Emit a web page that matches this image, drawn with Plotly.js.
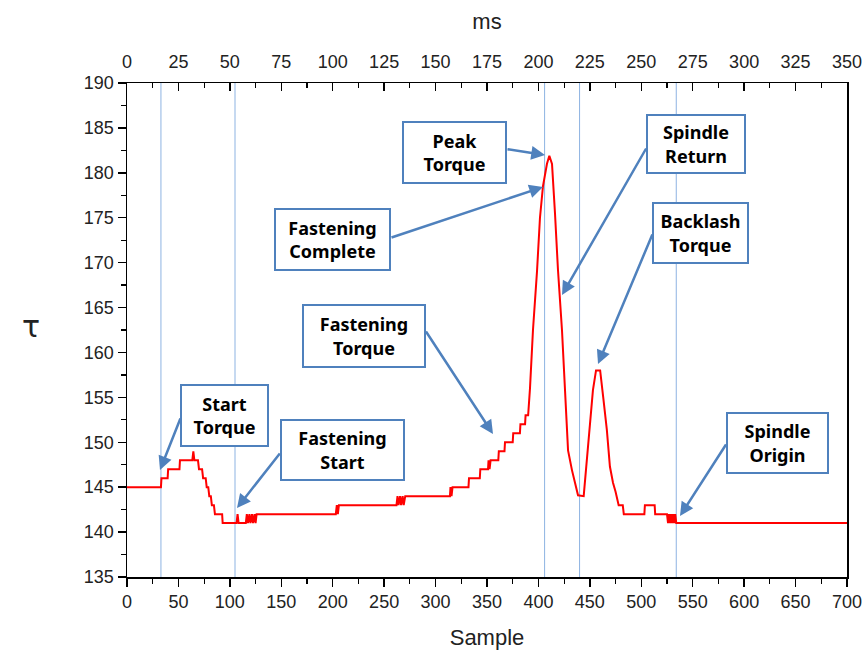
<!DOCTYPE html>
<html>
<head>
<meta charset="utf-8">
<script src="https://cdn.plot.ly/plotly-3.0.1.min.js"></script>
<style>html,body{margin:0;padding:0;background:#fff;}#chart{width:867px;height:653px;}</style>
</head>
<body>
<div id="chart"></div>
<script>
// Torque trace: sample index and torque value
const sample = [0,33,33.5,39.5,40,51,51.5,63.5,64.5,65.5,69,70,73,74,76.5,77.5,79,80,81.5,82.5,84.5,85.5,92.5,93,106.5,107.5,108.5,115.5,116.5,117.5,119,120,121.5,122.5,124,125,126,
  203,204,205,206,262,263,264,265.5,266.5,268,269,270.5,314,314.5,315.5,316.5,332,332.5,343,343.5,351,351.5,352.5,353.5,361,361.5,367,367.5,375,375.5,382,382.5,387,387.5,390,
  391.8,394.7,398.6,401.5,404.4,408.3,410.6,413.2,416.1,419,422.9,425.8,428.8,432.6,435.6,438.5,444,447,450,453,456,460,463,466.5,469.5,472.5,475,476,478,482,483,
  503,503.5,513,513.5,525,526,527,528,529,530,531,532,533,534,700];
const torque = [145,145,146,146,147,147,148,148,149,148,148,147,147,146,146,145,145,144,144,143,143,142,142,141,141,142,141,141,142,141,142,141,142,141,142,141,142,
  142,143,142,143,143,144,143,144,143,144,143,144,144,145,144,145,145,146,146,147,147,148,147,148,148,149,149,150,150,151,151,152,152,153,153,
  156,162.5,169,175,178.5,181,181.9,181,175.5,169.2,162.5,155,149.1,146.9,145.4,144.1,144,147.7,152,155.8,158,158,155,151.4,147.3,145.5,144.5,144,143,143,142,
  142,143,143,142,142,141,142,141,142,141,142,141,142,141,141];

// Event markers (sample index)
const eventSamples = [33,105,406,440,534];

// Callout labels
const labels = ["Start<br>Torque","Fastening<br>Start","Fastening<br>Torque","Fastening<br>Complete","Peak<br>Torque","Spindle<br>Return","Backlash<br>Torque","Spindle<br>Origin"];

// Axis ranges
const sampleRange = [0,700];
const msRange = [0,350];
const torqueRange = [135,190];

// --- layout helpers (pixel placement of callouts) ---
const L=127, R=847, T=83, B=577;
const pxX = p => (p-L)/(R-L);
const pxY = p => (B-p)/(B-T);
// box: [left, top, right, bottom]; arrow: [tailX, tailY, tipX, tipY]
const boxes = [
  [181,385,268,446],[281,420,404,480],[303,305,425,367],[275,209,390,270],
  [403,122,506,183],[647,115,745,173],[653,203,748,263],[727,413,828,473]
];
const arrows = [
  [181,417,160,470],[281,452,237,508],[425,330,493,434],[390,238,543,187],
  [506,149,545,155],[647,147,562,295],[653,233,598,364],[727,443,680,516]
];
const blue = '#4f81bd';
const annotations = [];
arrows.forEach(a => {
  annotations.push({xref:'paper',yref:'paper',x:pxX(a[2]),y:pxY(a[3]),ax:a[0]-a[2],ay:a[1]-a[3],
    text:'',showarrow:true,arrowhead:2,arrowsize:1.1,arrowwidth:2.5,arrowcolor:blue,standoff:0});
});
boxes.forEach((b,i) => {
  annotations.push({xref:'paper',yref:'paper',x:pxX((b[0]+b[2])/2),y:pxY((b[1]+b[3])/2),
    xanchor:'center',yanchor:'middle',text:labels[i],showarrow:false,
    width:b[2]-b[0]-2,height:b[3]-b[1]-2,borderpad:0,bordercolor:blue,borderwidth:2,bgcolor:'#fff',
    font:{family:'Noto Sans, DejaVu Sans, sans-serif',size:18,color:'#000',weight:'bold'}});
});
// y-axis symbol, upright as in the reference
annotations.push({xref:'paper',yref:'paper',x:pxX(31),y:pxY(326),xanchor:'center',yanchor:'middle',
  text:'τ',showarrow:false,font:{family:'DejaVu Sans, sans-serif',size:30,color:'#222'}});

const shapes = eventSamples.map(s => ({type:'line',xref:'x',yref:'paper',x0:s,x1:s,y0:0,y1:1,layer:'below',
  line:{color:'#8db3e2',width:1}}));

const tickFont = {family:'Liberation Sans, Arial, sans-serif',size:18,color:'#222'};
const titleFont = {family:'Liberation Sans, Arial, sans-serif',size:22,color:'#222'};
const axisCommon = {showgrid:false,zeroline:false,showline:true,linecolor:'#000',linewidth:1.5,
  tickcolor:'#000',tickwidth:1.5,tickfont:tickFont,automargin:false};

const traces = [
  {x:sample,y:torque,type:'scatter',mode:'lines',line:{color:'#ff0000',width:2},hoverinfo:'skip'},
  {x:msRange,y:[null,null],xaxis:'x2',type:'scatter',mode:'lines',hoverinfo:'skip',showlegend:false}
];

const layout = {
  width:867,height:653,margin:{l:L,r:867-R,t:T,b:653-B},
  paper_bgcolor:'#fff',plot_bgcolor:'#fff',showlegend:false,
  xaxis:Object.assign({},axisCommon,{range:sampleRange,tick0:0,dtick:50,ticks:'outside',ticklen:8,
    minor:{dtick:25,ticks:'outside',ticklen:5,tickcolor:'#000',tickwidth:1.2},
    title:{text:'Sample',font:titleFont,standoff:18}}),
  xaxis2:Object.assign({},axisCommon,{overlaying:'x',side:'top',anchor:'y',range:msRange,tick0:0,dtick:25,
    ticks:'inside',ticklen:8,ticklabelstandoff:6,
    minor:{dtick:12.5,ticks:'inside',ticklen:5,tickcolor:'#000',tickwidth:1.2},
    title:{text:'ms',font:titleFont,standoff:16}}),
  yaxis:Object.assign({},axisCommon,{range:torqueRange,tick0:135,dtick:5,ticks:'outside',ticklen:8,mirror:true,
    minor:{dtick:2.5,ticks:'outside',ticklen:5,tickcolor:'#000',tickwidth:1.2}}),
  shapes:shapes,annotations:annotations
};

Plotly.newPlot('chart',traces,layout,{staticPlot:true,displayModeBar:false});
</script>
</body>
</html>
